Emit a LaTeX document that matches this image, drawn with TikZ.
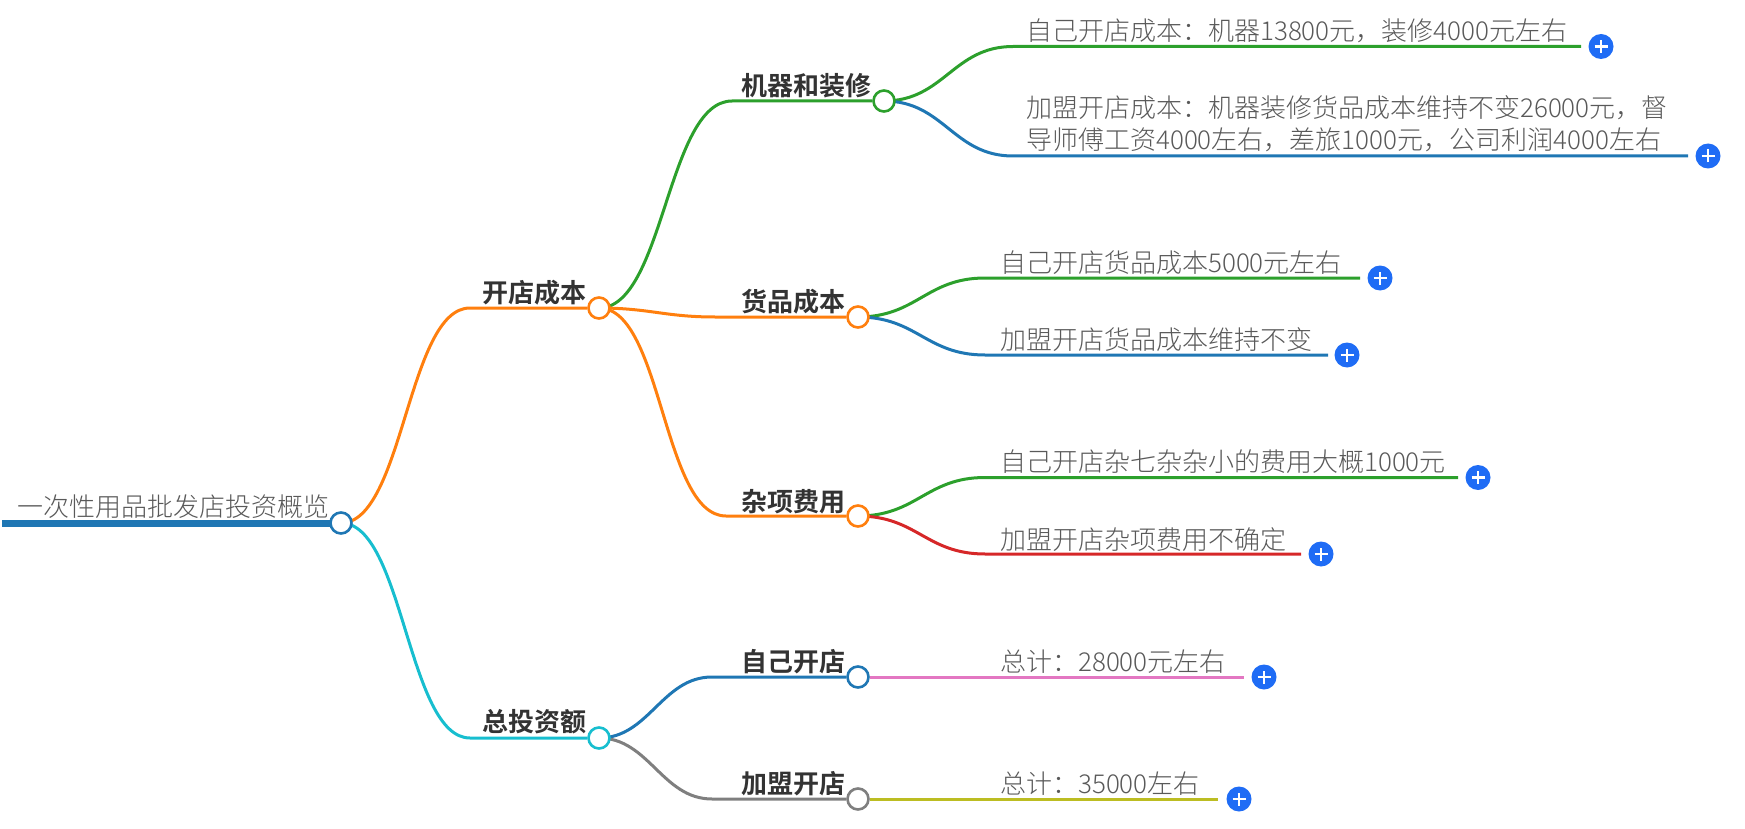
\documentclass[tikz,border=0pt]{standalone}
\usepackage{fontspec}
\setmainfont{Noto Sans CJK SC}[UprightFont=* Light,BoldFont=* Bold]
\usetikzlibrary{backgrounds}
\definecolor{cblue}{HTML}{1F77B4}
\definecolor{corange}{HTML}{FF7F0E}
\definecolor{cgreen}{HTML}{2CA02C}
\definecolor{cred}{HTML}{D62728}
\definecolor{cpink}{HTML}{E377C2}
\definecolor{cgray}{HTML}{7F7F7F}
\definecolor{colive}{HTML}{BCBD22}
\definecolor{ccyan}{HTML}{17BECF}
\definecolor{plusblue}{HTML}{1F6CF5}
\definecolor{txt}{HTML}{333333}
\tikzset{
  x=1pt,y=-1pt,
  dot/.style={circle,draw=#1,fill=white,line width=2.6pt,minimum size=21pt,inner sep=0pt},
  plusbtn/.style={circle,fill=plusblue,minimum size=25pt,inner sep=0pt,
    path picture={\draw[white,line width=2.2pt]
      ([xshift=-6.5pt]path picture bounding box.center) -- ([xshift=6.5pt]path picture bounding box.center)
      ([yshift=-6.5pt]path picture bounding box.center) -- ([yshift=6.5pt]path picture bounding box.center);}},
  roottext/.style={anchor=west,inner sep=0pt,text=black!65,font=\fontsize{26}{32}\selectfont},
  midtext/.style={anchor=west,inner sep=0pt,text=txt,font=\fontsize{26}{30}\selectfont\bfseries},
  leaftext/.style={anchor=west,inner sep=0pt,text=black!65,align=left,font=\fontsize{26}{32}\selectfont},
  edge/.style={draw=#1,line width=3pt},
}
\newcommand{\sbend}[4]{% colour, from, elbow, to
  \draw[edge=#1] (#2.center) .. controls ([xshift=0.5*\dxval pt]#2.center) and ([xshift=-0.5*\dxval pt]#3) .. (#3) -- (#4);}
\def\dxval{110}
\begin{document}
\begin{tikzpicture}
\useasboundingbox (0,0) rectangle (1745,829);
% hubs
\node[dot=cblue] (root) at (341,523) {};
\node[dot=corange] (n1) at (599,308) {};
\node[dot=ccyan] (n2) at (599,738) {};
\node[dot=cgreen] (a) at (884,101) {};
\node[dot=corange] (b) at (858,317) {};
\node[dot=corange] (c) at (858,516) {};
\node[dot=cblue] (d) at (858,677) {};
\node[dot=cgray] (e) at (858,799) {};
% plus buttons
\node[plusbtn] (pa1) at (1601,46.5) {};
\node[plusbtn] (pa2) at (1708,156) {};
\node[plusbtn] (pb1) at (1380,278) {};
\node[plusbtn] (pb2) at (1347,355) {};
\node[plusbtn] (pc1) at (1478,477.5) {};
\node[plusbtn] (pc2) at (1321,554) {};
\node[plusbtn] (pd) at (1264,677) {};
\node[plusbtn] (pe) at (1239,799) {};
% texts
\node[roottext] (troot) at (17,507) {一次性用品批发店投资概览};
\node[midtext] (tn1) at (482,293) {开店成本};
\node[midtext] (tn2) at (482,722) {总投资额};
\node[midtext] (ta) at (741,86) {机器和装修};
\node[midtext] (tb) at (741,302) {货品成本};
\node[midtext] (tc) at (741,502) {杂项费用};
\node[midtext] (td) at (741,662) {自己开店};
\node[midtext] (te) at (741,784) {加盟开店};
\node[leaftext] (la1) at (1026,31) {自己开店成本：机器13800元，装修4000元左右};
\node[leaftext] (la2) at (1026,124) {加盟开店成本：机器装修货品成本维持不变26000元，督\\导师傅工资4000左右，差旅1000元，公司利润4000左右};
\node[leaftext] (lb1) at (1000,263) {自己开店货品成本5000元左右};
\node[leaftext] (lb2) at (1000,340) {加盟开店货品成本维持不变};
\node[leaftext] (lc1) at (1000,462) {自己开店杂七杂杂小的费用大概1000元};
\node[leaftext] (lc2) at (1000,540) {加盟开店杂项费用不确定};
\node[leaftext] (ld) at (1000,662) {总计：28000元左右};
\node[leaftext] (le) at (1000,784) {总计：35000左右};
% elbows and line ends
\coordinate (Rs) at (2,523);
\coordinate (en1) at (470,308);
\coordinate (en2) at (470,738);
\coordinate (ea) at (732,101);
\coordinate (eb) at (715,317);
\coordinate (ec) at (726,516);
\coordinate (ed) at (712,677);
\coordinate (ee) at (712,799);
\coordinate (ea1) at (1013,46.5);
\coordinate (ea2) at (1013,156);
\coordinate (eb1) at (985,278);
\coordinate (eb2) at (985,355);
\coordinate (ec1) at (985,477.5);
\coordinate (ec2) at (985,554);
\coordinate (xa1) at (1581,46.5);
\coordinate (xa2) at (1688,156);
\coordinate (xb1) at (1360,278);
\coordinate (xb2) at (1328,355);
\coordinate (xc1) at (1458,477.5);
\coordinate (xc2) at (1301,554);
\coordinate (xd) at (1244,677);
\coordinate (xe) at (1218,799);
\begin{scope}[on background layer]
\draw[cblue,line width=7pt] (Rs) -- (root.center);
\def\dxval{125}
\sbend{corange}{root}{en1}{n1}
\sbend{ccyan}{root}{en2}{n2}
\def\dxval{130}
\sbend{cgreen}{n1}{ea}{a}
\def\dxval{100}
\sbend{corange}{n1}{eb}{b}
\def\dxval{127}
\sbend{corange}{n1}{ec}{c}
\def\dxval{100}
\sbend{cblue}{n2}{ed}{d}
\sbend{cgray}{n2}{ee}{e}
\def\dxval{120}
\sbend{cgreen}{a}{ea1}{xa1}
\sbend{cblue}{a}{ea2}{xa2}
\def\dxval{118}
\sbend{cgreen}{b}{eb1}{xb1}
\sbend{cblue}{b}{eb2}{xb2}
\sbend{cgreen}{c}{ec1}{xc1}
\sbend{cred}{c}{ec2}{xc2}
\draw[edge=cpink] (d) -- (xd);
\draw[edge=colive] (e) -- (xe);
\end{scope}
\end{tikzpicture}
\end{document}
